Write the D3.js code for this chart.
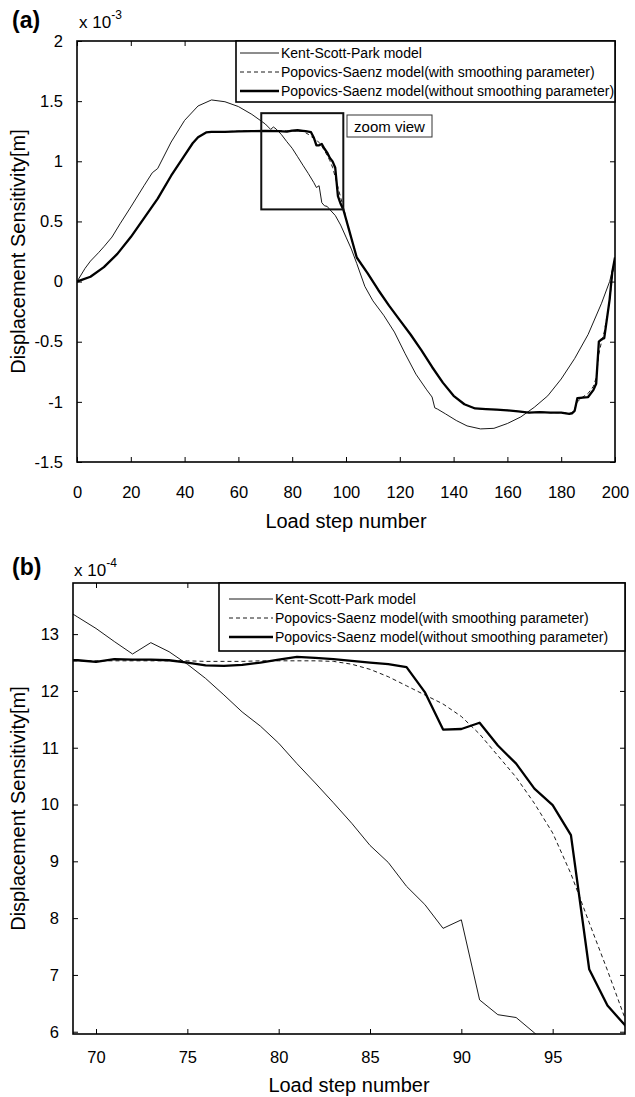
<!DOCTYPE html>
<html>
<head>
<meta charset="utf-8">
<script src="https://cdn.jsdelivr.net/npm/d3@7"></script>
<style>
  body { margin: 0; background: #fff; }
  text { font-family: "Liberation Sans", Arial, sans-serif; fill: #000; }
</style>
</head>
<body>
<svg id="chart" width="635" height="1097"></svg>
<script>
// ---- panel (a): whole load history, displacement sensitivity in 1e-3 m
var kentStepsA = [0, 3, 5, 8, 10, 13, 16, 20, 25, 28, 30, 35, 40, 45, 50, 55, 60, 65, 70, 72, 73, 74, 76, 78, 80, 82, 84, 86, 88, 89, 90, 91, 92, 93, 94, 96, 98, 100, 102, 104, 107, 110, 114, 118, 122, 126, 130, 132, 133, 134, 137, 141, 145, 150, 155, 160, 165, 170, 175, 180, 185, 190, 195, 198, 200];
var kentA = [0, 0.11, 0.17, 0.24, 0.29, 0.37, 0.48, 0.62, 0.8, 0.905, 0.94, 1.16, 1.34, 1.46, 1.51, 1.495, 1.455, 1.39, 1.31, 1.265, 1.285, 1.269, 1.222, 1.163, 1.108, 1.038, 0.967, 0.898, 0.824, 0.782, 0.797, 0.656, 0.63, 0.625, 0.598, 0.55, 0.47, 0.37, 0.27, 0.15, -0.04, -0.16, -0.28, -0.42, -0.6, -0.77, -0.9, -0.96, -1.05, -1.06, -1.1, -1.155, -1.2, -1.225, -1.22, -1.18, -1.125, -1.045, -0.95, -0.81, -0.64, -0.44, -0.18, 0.0, 0.18];

var psStepsA = [0, 5, 10, 15, 20, 25, 30, 35, 40, 43, 45, 48, 50, 55, 60, 65, 70, 75, 78, 80, 82, 84, 85, 86, 87, 88, 89, 90, 91, 92, 93, 94, 95, 96, 97, 98, 99, 100, 101, 102, 104, 108, 112, 116, 120, 124, 128, 132, 136, 140, 144, 148, 152, 156, 160, 164, 168, 172, 176, 180, 183, 184, 185, 186, 188, 190, 192, 193, 194, 195, 196, 198, 199, 200];
var psNoSmoothA = [0, 0.04, 0.12, 0.23, 0.37, 0.53, 0.69, 0.88, 1.05, 1.15, 1.2, 1.24, 1.245, 1.245, 1.248, 1.25, 1.252, 1.25, 1.246, 1.255, 1.258, 1.253, 1.25, 1.247, 1.242, 1.198, 1.132, 1.133, 1.144, 1.104, 1.072, 1.028, 0.999, 0.946, 0.71, 0.646, 0.6, 0.52, 0.44, 0.36, 0.2, 0.07, -0.07, -0.2, -0.32, -0.44, -0.57, -0.71, -0.84, -0.95, -1.02, -1.055, -1.06, -1.065, -1.07, -1.08, -1.09, -1.085, -1.09, -1.09, -1.1, -1.095, -1.075, -0.97, -0.965, -0.96, -0.9, -0.85, -0.5, -0.48, -0.47, -0.15, 0.08, 0.2];
var psSmoothA = [0, 0.04, 0.12, 0.23, 0.37, 0.53, 0.69, 0.88, 1.05, 1.15, 1.2, 1.24, 1.245, 1.247, 1.25, 1.252, 1.253, 1.253, 1.253, 1.253, 1.253, 1.247, 1.237, 1.224, 1.206, 1.19, 1.178, 1.155, 1.125, 1.088, 1.05, 1.005, 0.95, 0.87, 0.785, 0.7, 0.62, 0.53, 0.44, 0.36, 0.2, 0.07, -0.07, -0.2, -0.32, -0.44, -0.57, -0.71, -0.84, -0.95, -1.02, -1.055, -1.06, -1.065, -1.07, -1.08, -1.09, -1.085, -1.09, -1.09, -1.095, -1.09, -1.06, -1.0, -0.96, -0.93, -0.87, -0.8, -0.6, -0.5, -0.42, -0.16, 0.05, 0.2];

var xTicksA = [0, 20, 40, 60, 80, 100, 120, 140, 160, 180, 200];
var yTicksA = [-1.5, -1, -0.5, 0, 0.5, 1, 1.5, 2];
var zoomBoxX = [68.5, 99];
var zoomBoxY = [0.6, 1.4];

// ---- panel (b): zoom of steps ~69-99, in 1e-4 m
var kentStepsB = [68, 69, 70, 71, 72, 73, 74, 75, 76, 77, 78, 79, 80, 81, 82, 83, 84, 85, 86, 87, 88, 89, 90, 91, 92, 93, 94, 95];
var kentB = [13.5, 13.3, 13.1, 12.87, 12.65, 12.85, 12.69, 12.47, 12.22, 11.93, 11.63, 11.38, 11.08, 10.72, 10.38, 10.03, 9.67, 9.28, 8.98, 8.56, 8.24, 7.82, 7.97, 6.56, 6.3, 6.25, 5.98, 5.7];

var psStepsB = [68, 69, 70, 71, 72, 73, 74, 75, 76, 77, 78, 79, 80, 81, 82, 83, 84, 85, 86, 87, 88, 89, 90, 91, 92, 93, 94, 95, 96, 97, 98, 99];
var psNoSmoothB = [12.54, 12.54, 12.51, 12.56, 12.55, 12.55, 12.54, 12.5, 12.45, 12.44, 12.46, 12.5, 12.55, 12.6, 12.58, 12.56, 12.53, 12.5, 12.47, 12.42, 11.98, 11.32, 11.33, 11.44, 11.04, 10.72, 10.28, 9.99, 9.46, 7.1, 6.46, 6.1];
var psSmoothB = [12.53, 12.53, 12.53, 12.53, 12.53, 12.53, 12.53, 12.53, 12.52, 12.52, 12.52, 12.53, 12.53, 12.53, 12.53, 12.52, 12.47, 12.38, 12.25, 12.09, 11.93, 11.77, 11.55, 11.24, 10.86, 10.48, 10.02, 9.5, 8.78, 7.92, 7.08, 6.2];

var xTicksB = [70, 75, 80, 85, 90, 95];
var yTicksB = [6, 7, 8, 9, 10, 11, 12, 13];

var legendNames = ["Kent-Scott-Park model",
                   "Popovics-Saenz model(with smoothing parameter)",
                   "Popovics-Saenz model(without smoothing parameter)"];

var styles = [
  {w: 0.9, dash: null},
  {w: 0.9, dash: "4,3"},
  {w: 2.3, dash: null}
];

var svg = d3.select("#chart");

function zip(xs, ys) {
  return xs.map(function(x, i) { return [x, ys[i]]; });
}

function drawPanel(opt) {
  var x = d3.scaleLinear().domain(opt.xDomain).range([opt.left, opt.right]);
  var y = d3.scaleLinear().domain(opt.yDomain).range([opt.bottom, opt.top]);
  var g = svg.append("g");

  var clipId = "clip-" + opt.id;
  svg.append("clipPath").attr("id", clipId)
    .append("rect")
      .attr("x", opt.left).attr("y", opt.top)
      .attr("width", opt.right - opt.left).attr("height", opt.bottom - opt.top);

  var fmt = function(d) { return String(d); };

  // inward ticks on all four sides, like matlab
  var bAxis = g.append("g").attr("transform", "translate(0," + opt.bottom + ")")
    .call(d3.axisBottom(x).tickValues(opt.xTicks).tickSizeInner(-5).tickSizeOuter(0).tickPadding(14).tickFormat(fmt));
  var tAxis = g.append("g").attr("transform", "translate(0," + opt.top + ")")
    .call(d3.axisTop(x).tickValues(opt.xTicks).tickSizeInner(-5).tickSizeOuter(0).tickFormat(""));
  var lAxis = g.append("g").attr("transform", "translate(" + opt.left + ",0)")
    .call(d3.axisLeft(y).tickValues(opt.yTicks).tickSizeInner(-5).tickSizeOuter(0).tickPadding(14).tickFormat(fmt));
  var rAxis = g.append("g").attr("transform", "translate(" + opt.right + ",0)")
    .call(d3.axisRight(y).tickValues(opt.yTicks).tickSizeInner(-5).tickSizeOuter(0).tickFormat(""));

  [bAxis, tAxis, lAxis, rAxis].forEach(function(a) {
    a.select(".domain").remove();
    a.selectAll(".tick line").attr("stroke", "#000").attr("stroke-width", 1);
    a.selectAll(".tick text").attr("font-size", 16.5).attr("font-family", "Liberation Sans, Arial, sans-serif").attr("fill", "#000");
  });
  bAxis.selectAll(".tick text").attr("dy", null).attr("y", opt.xLabelDy);

  // curves
  var line = d3.line().x(function(d) { return x(d[0]); }).y(function(d) { return y(d[1]); });
  var curves = g.append("g").attr("clip-path", "url(#" + clipId + ")");
  opt.series.forEach(function(s, i) {
    curves.append("path")
      .attr("d", line(zip(s.steps, s.values)))
      .attr("fill", "none")
      .attr("stroke", "#000")
      .attr("stroke-width", styles[i].w)
      .attr("stroke-dasharray", styles[i].dash)
      .attr("stroke-linejoin", "round");
  });

  if (opt.zoomBox) {
    g.append("rect")
      .attr("x", x(opt.zoomBox.x[0])).attr("y", y(opt.zoomBox.y[1]))
      .attr("width", x(opt.zoomBox.x[1]) - x(opt.zoomBox.x[0]))
      .attr("height", y(opt.zoomBox.y[0]) - y(opt.zoomBox.y[1]))
      .attr("fill", "none").attr("stroke", "#111").attr("stroke-width", 2);
    g.append("rect")
      .attr("x", 347).attr("y", 115).attr("width", 85).attr("height", 22)
      .attr("fill", "#fff").attr("stroke", "#333").attr("stroke-width", 1);
    g.append("text").attr("x", 389.5).attr("y", 131.5)
      .attr("text-anchor", "middle").attr("font-size", 15).text("zoom view");
  }

  // box
  g.append("rect")
    .attr("x", opt.left).attr("y", opt.top)
    .attr("width", opt.right - opt.left).attr("height", opt.bottom - opt.top)
    .attr("fill", "none").attr("stroke", "#000").attr("stroke-width", 1.6);

  // legend
  var lg = opt.legend;
  g.append("rect")
    .attr("x", lg.x).attr("y", opt.top)
    .attr("width", opt.right - lg.x).attr("height", lg.h)
    .attr("fill", "#fff").attr("stroke", "#000").attr("stroke-width", 1.6);
  legendNames.forEach(function(name, i) {
    var ry = lg.rows[i];
    g.append("line")
      .attr("x1", lg.x + lg.lineX[0]).attr("x2", lg.x + lg.lineX[1])
      .attr("y1", ry).attr("y2", ry)
      .attr("stroke", "#000").attr("stroke-width", styles[i].w)
      .attr("stroke-dasharray", styles[i].dash);
    g.append("text")
      .attr("x", lg.x + lg.lineX[1] + 2).attr("y", ry + 5)
      .attr("font-size", 14).text(name);
  });

  // labels
  g.append("text")
    .attr("x", (opt.left + opt.right) / 2).attr("y", opt.xTitleY)
    .attr("text-anchor", "middle").attr("font-size", 20).text("Load step number");
  g.append("text")
    .attr("transform", "translate(25," + ((opt.top + opt.bottom) / 2) + ") rotate(-90)")
    .attr("text-anchor", "middle").attr("font-size", 20).text("Displacement Sensitivity[m]");

  var ex = g.append("text").attr("x", opt.expX).attr("y", opt.expY).attr("font-size", 17);
  ex.append("tspan").text("x 10");
  ex.append("tspan").attr("dy", -9).attr("font-size", 12).text(opt.exponent);

  g.append("text").attr("x", 12).attr("y", opt.panelY)
    .attr("font-family", "Liberation Serif, Times New Roman, serif")
    .attr("font-weight", "bold").attr("font-size", 23).text(opt.panel);
}

drawPanel({
  id: "a", panel: "(a)", panelY: 28, exponent: "-3", expX: 79, expY: 28,
  left: 77, right: 615, top: 41, bottom: 462,
  xDomain: [0, 200], yDomain: [-1.5, 2],
  xTicks: xTicksA, yTicks: yTicksA, xLabelDy: 36, xTitleY: 528,
  series: [
    {steps: kentStepsA, values: kentA},
    {steps: psStepsA, values: psSmoothA},
    {steps: psStepsA, values: psNoSmoothA}
  ],
  zoomBox: {x: zoomBoxX, y: zoomBoxY},
  legend: {x: 236, h: 61, rows: [53, 72, 91], lineX: [4, 43]}
});

drawPanel({
  id: "b", panel: "(b)", panelY: 575, exponent: "-4", expX: 74, expY: 576,
  left: 73, right: 625, top: 583, bottom: 1034,
  xDomain: [68.74, 98.96], yDomain: [5.96, 13.9],
  xTicks: xTicksB, yTicks: yTicksB, xLabelDy: 29, xTitleY: 1092,
  series: [
    {steps: kentStepsB, values: kentB},
    {steps: psStepsB, values: psSmoothB},
    {steps: psStepsB, values: psNoSmoothB}
  ],
  zoomBox: null,
  legend: {x: 219, h: 68, rows: [599, 618, 637], lineX: [10, 54]}
});
</script>
</body>
</html>
